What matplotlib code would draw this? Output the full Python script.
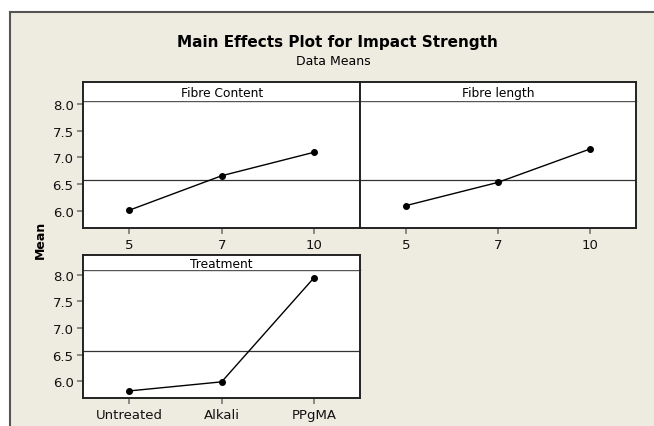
import matplotlib
matplotlib.use("Agg")
import matplotlib.pyplot as plt
import numpy as np

plt.rcParams['font.family'] = ['DejaVu Sans']

# Data
fibre_content_levels = ["5", "7", "10"]
fibre_content_means = [6.01, 6.655, 7.095]
fibre_length_levels = ["5", "7", "10"]
fibre_length_means = [6.095, 6.53, 7.155]
treatment_levels = ["Untreated", "Alkali", "PPgMA"]
treatment_means = [5.82, 5.99, 7.94]
grand_mean = 6.575
y_ticks = [6.0, 6.5, 7.0, 7.5, 8.0]

W, H = 654, 427
BG = "#EEEBE1"
fig = plt.figure(figsize=(W / 100, H / 100), dpi=100)
fig.patch.set_facecolor("white")

def fx(px):
    return px / W

def fy(py):
    return 1 - py / H

# beige background with border lines on left and top
bg = fig.add_axes([fx(10), 0, 1 - fx(10), fy(13)])
bg.set_facecolor(BG)
bg.set_xticks([]); bg.set_yticks([])
for s in ["right", "bottom"]:
    bg.spines[s].set_visible(False)
for s in ["left", "top"]:
    bg.spines[s].set_color("#555555")
    bg.spines[s].set_linewidth(1.5)
bg.set_zorder(-10)

def panel(x0, x1, strip_top, strip_bot, y1, ylim, levels, means, title, show_y):
    ax = fig.add_axes([fx(x0), fy(y1), fx(x1) - fx(x0), fy(strip_bot) - fy(y1)])
    ax.set_facecolor("white")
    xs = np.arange(len(levels))
    ax.axhline(grand_mean, color="#333333", lw=0.9, zorder=1)
    ax.plot(xs, means, color="black", lw=1.0, marker="o", ms=4, zorder=3)
    ax.set_xlim(-0.5, len(levels) - 0.5)
    ax.set_ylim(*ylim)
    ax.set_xticks(xs)
    ax.set_xticklabels(levels, fontsize=9.5, color="#111111")
    if show_y:
        ax.set_yticks(y_ticks)
        ax.set_yticklabels([f"{v:.1f}" for v in y_ticks], fontsize=9.5, color="#111111")
    else:
        ax.set_yticks([])
    ax.tick_params(axis="both", direction="out", length=4, width=1.2, color="#777777", pad=3)
    for s in ax.spines.values():
        s.set_color("#222222")
        s.set_linewidth(1.4)
    ax.spines["top"].set_color("#555555")
    ax.spines["top"].set_linewidth(1.0)
    # strip
    st = fig.add_axes([fx(x0), fy(strip_bot), fx(x1) - fx(x0), fy(strip_top) - fy(strip_bot)])
    st.set_facecolor("white")
    st.set_xticks([]); st.set_yticks([])
    for s in st.spines.values():
        s.set_color("#222222")
        s.set_linewidth(1.4)
    st.spines["bottom"].set_visible(False)
    st.text(0.5, 0.45, title, ha="center", va="center", fontsize=8.8, transform=st.transAxes)
    return ax

panel(83.3, 360, 83.3, 101.7, 229, (5.675, 8.063), fibre_content_levels, fibre_content_means, "Fibre Content", True)
panel(360, 635.7, 83.3, 101.7, 229, (5.675, 8.063), fibre_length_levels, fibre_length_means, "Fibre length", False)
panel(83.3, 360, 255.7, 271, 399, (5.687, 8.088), treatment_levels, treatment_means, "Treatment", True)

fig.text(fx(337), fy(43), "Main Effects Plot for Impact Strength", ha="center", va="center",
         fontsize=11, fontweight="bold")
fig.text(fx(333), fy(62), "Data Means", ha="center", va="center", fontsize=9)
fig.text(fx(40), fy(240), "Mean", ha="center", va="center", rotation=90, fontsize=9, fontweight="bold")

fig.savefig("out.png", dpi=100, facecolor=fig.get_facecolor())
